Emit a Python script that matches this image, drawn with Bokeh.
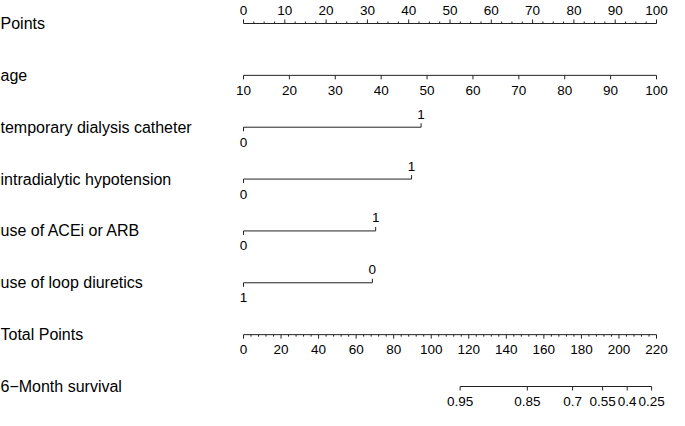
from bokeh.plotting import figure
from bokeh.models import Range1d
from bokeh.embed import file_html
from bokeh.resources import INLINE
from bokeh.core.properties import value

# ---------------- data ----------------
row_labels = ["Points", "age", "temporary dialysis catheter", "intradialytic hypotension",
              "use of ACEi or ARB", "use of loop diuretics", "Total Points", "6\u2212Month survival"]

points_ticks = [0, 10, 20, 30, 40, 50, 60, 70, 80, 90, 100]
points_minor_step = 2.5

age_values = [10, 20, 30, 40, 50, 60, 70, 80, 90, 100]
age_min, age_max = 10, 100

cath_levels = ["0", "1"]
cath_points = [0.0, 43.0]
hypo_levels = ["0", "1"]
hypo_points = [0.0, 40.7]
acei_levels = ["0", "1"]
acei_points = [0.0, 32.0]
loop_levels = ["1", "0"]
loop_points = [0.0, 31.2]

total_ticks = [0, 20, 40, 60, 80, 100, 120, 140, 160, 180, 200, 220]
total_minor_step = 4
total_max = 220

surv_labels = ["0.95", "0.85", "0.7", "0.55", "0.4", "0.25"]
surv_total = [115.4, 151.2, 175.3, 191.3, 204.4, 217.4]

# ---------------- layout ----------------
W, H = 669, 410
X_ZERO_PX, X_HUND_PX = 243, 656
scale = (X_HUND_PX - X_ZERO_PX) / 100.0
X0 = -X_ZERO_PX / scale
X1 = (W - X_ZERO_PX) / scale

ROW0, ROW_LAST = 23, 386
ROW_STEP = (ROW_LAST - ROW0) / 7.0
rows = [ROW0 + k * ROW_STEP for k in range(8)]

FONT = value("Liberation Sans")
LAB_SIZE = "16px"
TICK_SIZE = "13.5px"
MAJ, MIN = 4, 2
ABOVE, BELOW = -13, 15
COL = "#222222"

p = figure(width=W, height=H, output_backend="svg", toolbar_location=None,
           x_range=Range1d(X0, X1), y_range=Range1d(H, 0), min_border=0)
p.axis.visible = False
p.grid.visible = False
p.outline_line_color = None
p.background_fill_color = "white"
p.border_fill_color = "white"

# row labels
p.text(x=[X0] * len(rows), y=rows, text=row_labels, text_font=FONT, text_font_size=LAB_SIZE,
       text_align="left", text_baseline="middle", text_color="black")


def hline(y, a, b):
    p.segment(x0=[a], y0=[y], x1=[b], y1=[y], line_color=COL, line_width=1)


def ticks(xs, y, length):
    p.segment(x0=xs, y0=[y] * len(xs), x1=xs, y1=[y + length] * len(xs), line_color=COL, line_width=1)


def labels(xs, y, txt):
    p.text(x=xs, y=[y] * len(xs), text=txt, text_font=FONT, text_font_size=TICK_SIZE,
           text_align="center", text_baseline="middle", text_color="black")


# Points axis (labels above, ticks up)
y = rows[0]
hline(y, points_ticks[0], points_ticks[-1])
n_minor = int((points_ticks[-1] - points_ticks[0]) / points_minor_step)
minor = [points_ticks[0] + i * points_minor_step for i in range(n_minor + 1)]
minor = [m for m in minor if m not in points_ticks]
ticks(points_ticks, y, -MAJ)
ticks(minor, y, -MIN)
labels(points_ticks, y + ABOVE, [str(t) for t in points_ticks])

# age axis (labels below, ticks down)
y = rows[1]
age_pts = [(a - age_min) * 100.0 / (age_max - age_min) for a in age_values]
hline(y, age_pts[0], age_pts[-1])
ticks(age_pts, y, MAJ)
labels(age_pts, y + BELOW, [str(a) for a in age_values])

# binary variables
for k, (lv, pts) in zip([2, 3, 4, 5], [(cath_levels, cath_points), (hypo_levels, hypo_points),
                                      (acei_levels, acei_points), (loop_levels, loop_points)]):
    y = rows[k]
    hline(y, min(pts), max(pts))
    ticks([pts[0]], y, MAJ)
    labels([pts[0]], y + BELOW, [lv[0]])
    ticks([pts[1]], y, -MAJ)
    labels([pts[1]], y + ABOVE, [lv[1]])

# Total Points axis
y = rows[6]
tp = [t * 100.0 / total_max for t in total_ticks]
hline(y, tp[0], tp[-1])
tminor = [t * 100.0 / total_max for t in range(total_ticks[0], total_ticks[-1] + 1, total_minor_step)
          if t not in total_ticks]
ticks(tp, y, MAJ)
ticks(tminor, y, MIN)
labels(tp, y + BELOW, [str(t) for t in total_ticks])

# survival axis
y = rows[7]
sp = [t * 100.0 / total_max for t in surv_total]
hline(y, sp[0], sp[-1])
ticks(sp, y, MAJ)
labels(sp, y + BELOW, surv_labels)

open("out.html", "w").write(file_html(p, INLINE))
